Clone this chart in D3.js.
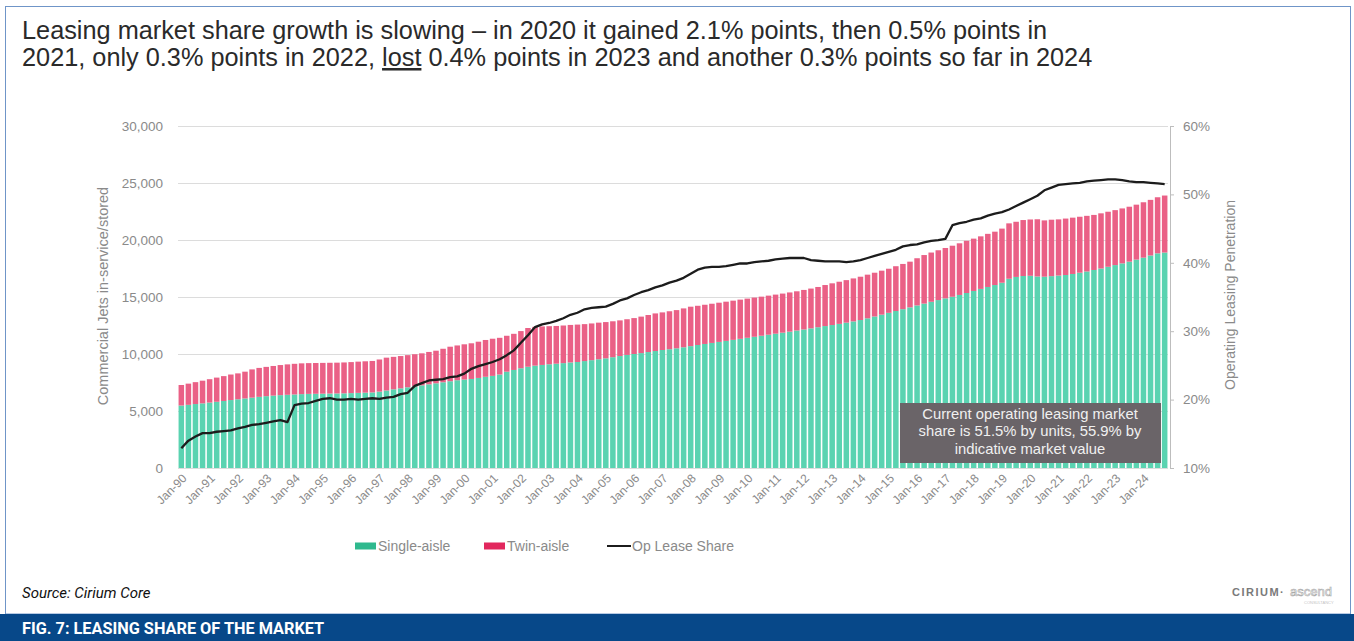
<!DOCTYPE html>
<html>
<head>
<meta charset="utf-8">
<script src="https://cdn.jsdelivr.net/npm/d3@7"></script>
<style>
  html, body { margin: 0; padding: 0; background: #ffffff; }
  svg { display: block; }
  text { font-family: "Liberation Sans", Arial, sans-serif; }
</style>
</head>
<body>
<svg id="chart" width="1354" height="641"></svg>
<script>
// Fleet by quarter, 1990 Q1 – 2024 Q4
const years = [1990,1991,1992,1993,1994,1995,1996,1997,1998,1999,2000,2001,2002,2003,2004,2005,2006,2007,2008,2009,2010,2011,2012,2013,2014,2015,2016,2017,2018,2019,2020,2021,2022,2023,2024];
const quarters = ["Q1","Q2","Q3","Q4"];

// Single-aisle jets in service/stored (units)
const singleAisle = [
  5480,5540,5610,5670, 5740,5810,5880,5960, 6030,6100,6170,6240, 6300,6350,6390,6420,
  6450,6480,6500,6510, 6520,6530,6540,6550, 6570,6590,6610,6630, 6700,6800,6900,6990,
  7080,7170,7250,7340, 7430,7520,7610,7700, 7760,7810,7900,8000, 8080,8200,8450,8600,
  8750,8880,8980,9040, 9100,9150,9200,9260, 9300,9380,9460,9540, 9620,9720,9820,9920,
  10000,10080,10170,10260, 10350,10420,10500,10590, 10690,10790,10880,10970, 11060,11150,11240,11330,
  11420,11510,11600,11690, 11780,11870,11960,12060, 12150,12250,12350,12450, 12540,12640,12750,12860,
  12980,13130,13290,13450, 13610,13770,13930,14090, 14260,14420,14580,14730, 14880,15020,15180,15350,
  15530,15710,15880,16050, 16250,16600,16760,16840, 16860,16800,16780,16830, 16880,16930,17020,17130,
  17240,17370,17500,17650, 17800,17950,18100,18280, 18450,18640,18830,18900
];

// Twin-aisle jets in service/stored (units)
const twinAisle = [
  1800,1860,1920,1990, 2050,2120,2180,2240, 2270,2350,2480,2540, 2570,2600,2640,2670,
  2690,2700,2700,2700, 2700,2700,2700,2710, 2720,2740,2750,2760, 2820,2880,2850,2830,
  2820,2810,2810,2840, 2860,2940,3030,3050, 3090,3130,3180,3230, 3260,3220,3150,3170,
  3260,3400,3400,3380, 3340,3310,3300,3290, 3280,3240,3220,3210, 3180,3150,3130,3130,
  3150,3200,3250,3300, 3300,3330,3350,3410, 3460,3440,3440,3440, 3440,3440,3440,3440,
  3440,3440,3430,3430, 3430,3430,3440,3440, 3470,3490,3530,3600, 3660,3700,3730,3770,
  3800,3830,3840,3860, 3870,3930,3970,4010, 4140,4260,4320,4370, 4420,4480,4530,4580,
  4590,4610,4660,4680, 4750,4860,4840,4910, 4940,5020,4940,4950, 4930,4950,4940,4910,
  4880,4830,4840,4830, 4820,4820,4820,4820, 4860,4880,4920,5000
];

// Operating lease share of the fleet (%)
const opLeaseShare = [
  12.9,14.0,14.6,15.1, 15.1,15.3,15.4,15.5, 15.8,16.0,16.3,16.4, 16.6,16.8,17.0,16.7,
  19.2,19.4,19.5,19.8, 20.1,20.2,20.0,20.0, 20.1,20.0,20.1,20.2, 20.1,20.3,20.4,20.8,
  21.0,22.0,22.4,22.8, 22.9,23.0,23.3,23.4, 23.8,24.5,24.9,25.2, 25.5,25.9,26.5,27.2,
  28.3,29.4,30.6,31.0, 31.2,31.5,31.9,32.4, 32.7,33.2,33.4,33.5, 33.6,34.0,34.5,34.8,
  35.3,35.7,36.0,36.4, 36.7,37.1,37.4,37.8, 38.4,39.0,39.3,39.4, 39.4,39.5,39.7,39.9,
  39.9,40.1,40.2,40.3, 40.5,40.6,40.7,40.7, 40.7,40.4,40.3,40.2, 40.2,40.2,40.1,40.2,
  40.4,40.7,41.0,41.3, 41.6,41.9,42.4,42.6, 42.7,43.0,43.2,43.3, 43.5,45.5,45.8,46.0,
  46.3,46.5,46.9,47.2, 47.4,47.8,48.3,48.8, 49.3,49.8,50.6,51.0, 51.4,51.5,51.6,51.7,
  51.9,52.0,52.1,52.2, 52.2,52.1,51.9,51.8, 51.8,51.7,51.6,51.5
];

const yearLabels = ["Jan-90","Jan-91","Jan-92","Jan-93","Jan-94","Jan-95","Jan-96","Jan-97","Jan-98","Jan-99",
  "Jan-00","Jan-01","Jan-02","Jan-03","Jan-04","Jan-05","Jan-06","Jan-07","Jan-08","Jan-09",
  "Jan-10","Jan-11","Jan-12","Jan-13","Jan-14","Jan-15","Jan-16","Jan-17","Jan-18","Jan-19",
  "Jan-20","Jan-21","Jan-22","Jan-23","Jan-24"];
const unitTicks = [0, 5000, 10000, 15000, 20000, 25000, 30000];
const shareTicks = [10, 20, 30, 40, 50, 60];

const seriesNames = ["Single-aisle", "Twin-aisle", "Op Lease Share"];
const colors = { single: "#5ad3b1", twin: "#ea6086", line: "#1c1c1c",
                 swatchSingle: "#2fb98e", swatchTwin: "#e2275d" };

const titleLines = [
  ["Leasing market share growth is slowing \u2013 in 2020 it gained 2.1% points, then 0.5% points in"],
  ["2021, only 0.3% points in 2022, ", "lost", " 0.4% points in 2023 and another 0.3% points so far in 2024"]
];
const noteLines = ["Current operating leasing market", "share is 51.5% by units, 55.9% by", "indicative market value"];

// ---- assemble rows ----
const rows = [];
years.forEach(y => quarters.forEach(q => rows.push({ key: y + "-" + q, year: y, q })));
rows.forEach((r, i) => { r.single = singleAisle[i]; r.twin = twinAisle[i]; r.share = opLeaseShare[i]; });

const svg = d3.select("#chart");
const W = 1354, H = 641;
const plot = { left: 178, right: 1168, top: 126, bottom: 468 };
const grey = "#8a8a8a";

// frame and footer
svg.append("rect").attr("x", 5.5).attr("y", 6.5).attr("width", W - 9).attr("height", 614 - 6.5)
  .attr("fill", "#ffffff").attr("stroke", "#6f95c8").attr("stroke-width", 1);
svg.append("rect").attr("x", 0).attr("y", 614).attr("width", W).attr("height", H - 614).attr("fill", "#074889");
svg.append("text").attr("x", 22).attr("y", 634)
  .style("font-family", "'Liberation Sans Narrow', 'Roboto', Arial, sans-serif")
  .style("font-weight", "bold").style("font-size", "16.3px").attr("fill", "#ffffff")
  .text("FIG. 7: LEASING SHARE OF THE MARKET");
svg.append("text").attr("x", 22).attr("y", 598)
  .style("font-family", "'Liberation Sans Narrow', 'Roboto', Arial, sans-serif")
  .style("font-style", "italic").style("font-size", "15px").attr("fill", "#111")
  .text("Source: Cirium Core");

// logo
const logo = svg.append("g").attr("transform", "translate(1232,596)");
logo.append("text").attr("x", 0).attr("y", 0).style("font-size", "11px").style("font-weight", "bold")
  .style("letter-spacing", "1.5px").attr("fill", "#7a7a7a").text("CIRIUM\u00b7");
logo.append("text").attr("x", 58).attr("y", 0).style("font-size", "13px")
  .attr("fill", "none").attr("stroke", "#a9a9a9").attr("stroke-width", 0.6).text("ascend");
logo.append("text").attr("x", 72).attr("y", 8).style("font-size", "4px").attr("fill", "#c4c4c4")
  .text("CONSULTANCY");

// title
const title = svg.append("text").attr("x", 22).style("font-size", "25.3px").attr("fill", "#2a2a2a");
titleLines.forEach((parts, li) => {
  parts.forEach((p, pi) => {
    const ts = title.append("tspan").text(p);
    if (pi === 0) ts.attr("x", 22).attr("y", 39 + li * 27);
    if (p === "lost") ts.attr("text-decoration", "underline");
  });
});

// scales
const x = d3.scaleBand().domain(rows.map(r => r.key)).range([plot.left, plot.right])
  .paddingInner(0.22).paddingOuter(0.08);
const yL = d3.scaleLinear().domain([0, 30000]).range([plot.bottom, plot.top]);
const yR = d3.scaleLinear().domain([10, 60]).range([plot.bottom, plot.top]);

// gridlines
const grid = svg.append("g").attr("transform", `translate(${plot.left},0)`)
  .call(d3.axisLeft(yL).tickValues(unitTicks).tickSize(-(plot.right - plot.left)).tickFormat(""));
grid.select(".domain").remove();
grid.selectAll("line").attr("stroke", "#dcdcdc").attr("stroke-width", 1);

// stacked bars
const stack = d3.stack().keys(["single", "twin"]);
const layers = stack(rows);
svg.append("g").selectAll("g").data(layers).join("g")
  .attr("fill", d => d.key === "single" ? colors.single : colors.twin)
  .selectAll("rect").data(d => d).join("rect")
  .attr("x", d => x(d.data.key))
  .attr("width", x.bandwidth())
  .attr("y", d => yL(d[1]))
  .attr("height", d => yL(d[0]) - yL(d[1]));

// left axis
const axL = svg.append("g").attr("transform", `translate(${plot.left - 12},0)`)
  .call(d3.axisLeft(yL).tickValues(unitTicks).tickSize(0).tickFormat(d3.format(",")));
axL.select(".domain").remove();
axL.selectAll("text").style("font-size", "13.5px").attr("fill", grey)
  .style("font-family", "'Liberation Sans', Arial, sans-serif");

// right axis
const axR = svg.append("g").attr("transform", `translate(${plot.right + 2},0)`)
  .call(d3.axisRight(yR).tickValues(shareTicks).tickSize(4).tickPadding(9).tickFormat(d => d + "%"));
axR.select(".domain").attr("stroke", "#bdbdbd");
axR.selectAll("line").attr("stroke", "#bdbdbd");
axR.selectAll("text").style("font-size", "13.5px").attr("fill", grey)
  .style("font-family", "'Liberation Sans', Arial, sans-serif");

// bottom axis: one label per January
const janKeys = years.map(y => y + "-Q1");
const axB = svg.append("g").attr("transform", `translate(0,${plot.bottom})`)
  .call(d3.axisBottom(x).tickValues(janKeys).tickSize(0)
    .tickFormat((d, i) => yearLabels[i]));
axB.select(".domain").remove();
axB.selectAll("text")
  .style("font-size", "12px").attr("fill", grey)
  .style("font-family", "'Liberation Sans', Arial, sans-serif")
  .attr("text-anchor", "end").attr("dy", "0")
  .attr("transform", "translate(4,9) rotate(-45)");

// axis titles
svg.append("text").attr("transform", "translate(108,296) rotate(-90)")
  .attr("text-anchor", "middle").style("font-size", "14.5px").attr("fill", grey)
  .text("Commercial Jets in-service/stored");
svg.append("text").attr("transform", "translate(1235,295) rotate(-90)")
  .attr("text-anchor", "middle").style("font-size", "14px").attr("fill", grey)
  .text("Operating Leasing Penetration");

// op lease share line
const line = d3.line().x(d => x(d.key) + x.bandwidth() / 2).y(d => yR(d.share));
svg.append("path").datum(rows).attr("d", line)
  .attr("fill", "none").attr("stroke", colors.line).attr("stroke-width", 2.3)
  .attr("stroke-linejoin", "round");

// annotation
const note = svg.append("g");
note.append("rect").attr("x", 900).attr("y", 403).attr("width", 261).attr("height", 60)
  .attr("fill", "#6a6468");
noteLines.forEach((t, i) => {
  note.append("text").attr("x", 1030).attr("y", 418.5 + i * 17.5).attr("text-anchor", "middle")
    .style("font-size", "14.8px").attr("fill", "#f0f0f0").text(t);
});

// legend
const legend = svg.append("g").attr("transform", "translate(355,546)");
const legendItems = [
  { name: seriesNames[0], type: "rect", color: colors.swatchSingle, x: 0 },
  { name: seriesNames[1], type: "rect", color: colors.swatchTwin, x: 129 },
  { name: seriesNames[2], type: "line", color: colors.line, x: 252 }
];
legendItems.forEach(it => {
  const g = legend.append("g").attr("transform", `translate(${it.x},0)`);
  if (it.type === "rect") {
    g.append("rect").attr("x", 0).attr("y", -3.5).attr("width", 21).attr("height", 7).attr("fill", it.color);
  } else {
    g.append("line").attr("x1", 0).attr("x2", 24).attr("y1", 0).attr("y2", 0)
      .attr("stroke", it.color).attr("stroke-width", 2);
  }
  g.append("text").attr("x", it.type === "rect" ? 23 : 25).attr("y", 5)
    .style("font-size", "14px").attr("fill", grey).text(it.name);
});
</script>
</body>
</html>
